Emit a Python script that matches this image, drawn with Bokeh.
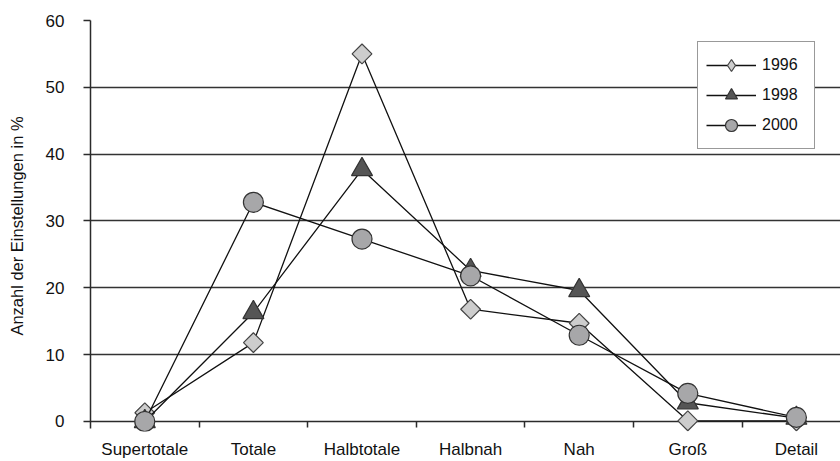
import numpy as np
from bokeh.plotting import figure
from bokeh.models import (ColumnDataSource, Range1d, FixedTicker, Grid,
                          Legend, LegendItem)
from bokeh.embed import file_html
from bokeh.resources import INLINE

# Shot sizes and share of shots (%) per year
categories = ["Supertotale", "Totale", "Halbtotale", "Halbnah", "Nah", "Groß", "Detail"]
y1996 = [1.3, 11.8, 55.0, 16.8, 14.7, 0.1, 0.1]
y1998 = [0.0, 16.3, 37.7, 22.6, 19.6, 2.8, 0.5]
y2000 = [0.0, 32.8, 27.3, 21.8, 12.9, 4.2, 0.6]
y_ticks = [0, 10, 20, 30, 40, 50, 60]

FONT = "Liberation Sans"
INK = "#2b2b2b"
TXT = "17px"

centers = [i + 0.5 for i in range(len(categories))]
bounds = [i for i in range(1, len(categories))]
src = ColumnDataSource(dict(x=centers, y96=y1996, y98=y1998, y00=y2000))

# the frame reaches a little below zero so markers sitting on the
# zero line are drawn whole
p = figure(width=840, height=461, output_backend="svg", toolbar_location=None,
           x_range=Range1d(0, 6.906), y_range=Range1d(-1.5, 60),
           min_border_left=90, min_border_right=0, min_border_top=20,
           min_border_bottom=30, outline_line_color=None,
           background_fill_color="white", border_fill_color="white")

# y axis
p.yaxis.ticker = FixedTicker(ticks=y_ticks)
p.yaxis.bounds = (-1, 60)
p.yaxis.axis_label = "Anzahl der Einstellungen in %"
p.yaxis.axis_label_text_font = FONT
p.yaxis.axis_label_text_font_style = "normal"
p.yaxis.axis_label_text_font_size = "16.5px"
p.yaxis.axis_label_text_color = "#111"
p.yaxis.axis_label_standoff = 17
p.yaxis.major_label_text_font = FONT
p.yaxis.major_label_text_font_size = TXT
p.yaxis.major_label_text_color = "#111"
p.yaxis.major_label_standoff = 19
p.yaxis.major_tick_out = 7
p.yaxis.major_tick_in = 0
p.yaxis.minor_tick_line_color = None
p.yaxis.axis_line_color = INK
p.yaxis.axis_line_width = 1.5
p.yaxis.major_tick_line_color = INK
p.yaxis.major_tick_line_width = 1.5

# x axis: names at category centres, short marks between categories
# hanging down from the zero line
p.xaxis.ticker = FixedTicker(ticks=centers, minor_ticks=bounds)
p.xaxis.major_label_overrides = {c: name for c, name in zip(centers, categories)}
p.xaxis.major_label_text_font = FONT
p.xaxis.major_label_text_font_size = TXT
p.xaxis.major_label_text_color = "#111"
p.xaxis.major_label_standoff = 8
p.xaxis.major_tick_line_color = None
p.xaxis.major_tick_out = 0
p.xaxis.major_tick_in = 0
p.xaxis.minor_tick_in = 10
p.xaxis.minor_tick_out = -4
p.xaxis.minor_tick_line_color = INK
p.xaxis.minor_tick_line_width = 1.5
p.xaxis.axis_line_color = None

# horizontal gridlines, zero line and top border
p.xgrid.grid_line_color = None
p.ygrid.ticker = FixedTicker(ticks=y_ticks[1:-1])
p.ygrid.grid_line_color = "#333333"
p.ygrid.grid_line_width = 1.3
p.add_layout(Grid(dimension=1, ticker=FixedTicker(ticks=[y_ticks[0]]),
                  grid_line_color=INK, grid_line_width=1.5))
p.add_layout(Grid(dimension=1, ticker=FixedTicker(ticks=[y_ticks[-1]]),
                  grid_line_color="#8a8a8a", grid_line_width=2))

LW = 1.3
l96 = p.line("x", "y96", source=src, line_color="#111", line_width=LW)
s96 = p.scatter("x", "y96", source=src, marker="square", angle=np.pi / 4, size=14,
                fill_color="#cdcdcd", line_color="#444", line_width=1.2)
l98 = p.line("x", "y98", source=src, line_color="#111", line_width=LW)
s98 = p.scatter("x", "y98", source=src, marker="triangle", size=21,
                fill_color="#555555", line_color="#333", line_width=1.2)
l00 = p.line("x", "y00", source=src, line_color="#111", line_width=LW)
s00 = p.scatter("x", "y00", source=src, marker="circle", size=20,
                fill_color="#a7a7a9", line_color="#333", line_width=1.2)

# key symbol for 1996 (a diamond in the key box only)
k96 = p.scatter("x", "y96", source=src, marker="diamond", size=0,
                fill_color="#cdcdcd", line_color="#444", line_width=1.2)

legend = Legend(items=[LegendItem(label="1996", renderers=[l96, k96]),
                       LegendItem(label="1998", renderers=[l98, s98]),
                       LegendItem(label="2000", renderers=[l00, s00])],
                location=(607, 282), padding=8, spacing=0, margin=0,
                glyph_width=50, glyph_height=30, label_height=30,
                label_width=44, label_standoff=6,
                label_text_font=FONT, label_text_font_size="16px",
                label_text_color="#111",
                border_line_color="#333", border_line_width=1.5,
                background_fill_color="white", background_fill_alpha=1)
p.add_layout(legend, "center")

open("out.html", "w").write(file_html(p, INLINE))
